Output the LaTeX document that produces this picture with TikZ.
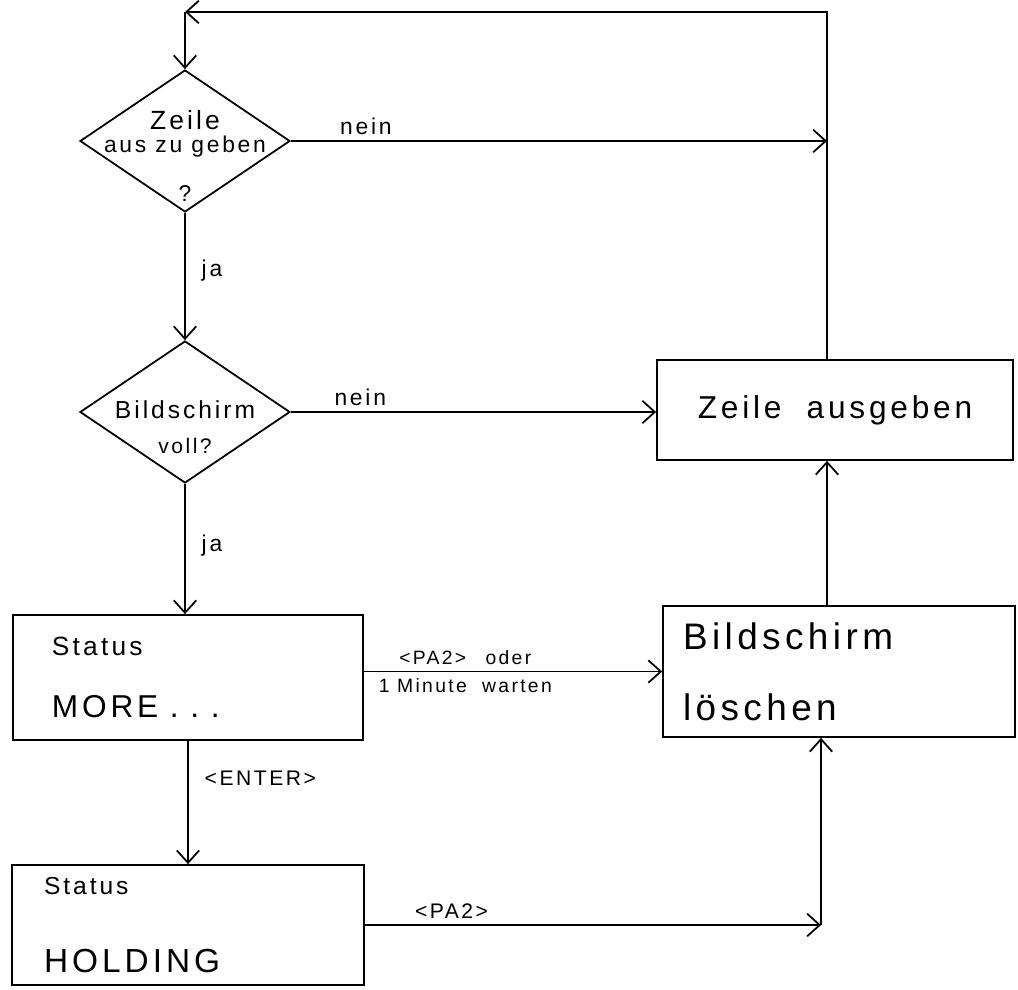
\documentclass[tikz,border=0pt]{standalone}
\usepackage{fontspec}
\newfontfamily\handfont[LetterSpace=12]{Liberation Sans}
\usetikzlibrary{arrows.meta, positioning, shapes.geometric}

\begin{document}
\begin{tikzpicture}[
		decision/.style={diamond, draw, line width=1pt, minimum width=4.2cm,
				minimum height=2.84cm, inner sep=0pt},
		dtext/.style={align=center, font=\handfont},
		block/.style={rectangle, draw, line width=1pt, align=left, font=\handfont},
		tag/.style={font=\handfont\fontsize{13}{15}\selectfont},
		arrow/.style={line width=1pt, -{Straight Barb[length=2.5mm, width=4.5mm]}},
	]
	\useasboundingbox (0,0) rectangle (20.36,-19.78);

	% --- Abfragen ---
	\node (ask)  [decision, label={[dtext, yshift=-3mm]center:{\fontsize{15}{15}\selectfont Zeile}\\[1pt]
				{\fontsize{13}{15}\selectfont aus zu geben}\\[16pt]{\fontsize{13}{15}\selectfont ?}}]
		at (3.70,-2.82) {};
	\node (full) [decision, label={[dtext, yshift=-3mm]center:{\fontsize{14}{16}\selectfont Bildschirm}\\[8pt]
				{\fontsize{12}{14}\selectfont voll?}}]
		at (3.70,-8.24) {};

	% --- Kaesten ---
	\node (out)   [block, minimum width=7.12cm, minimum height=2cm, align=center]
		at (16.70,-8.20) {\fontsize{18}{22}\selectfont Zeile\ \ ausgeben};
	\node (clear) [block, minimum width=7.04cm, minimum height=2.62cm, text width=6.24cm,
		inner xsep=0.4cm] at (16.78,-13.43) {\fontsize{21}{25}\selectfont Bildschirm\\[24pt]löschen};
	\node (more)  [block, minimum width=7cm, minimum height=2.5cm, text width=5.44cm,
		inner xsep=0.78cm] at (3.76,-13.55)
		{\fontsize{15}{18}\selectfont Status\\[22pt]\fontsize{18}{22}\selectfont MORE\ \ .\ \ .\ \ .};
	\node (hold)  [block, minimum width=7.04cm, minimum height=2.4cm, text width=5.76cm,
		inner xsep=0.64cm] at (3.76,-18.5)
		{\fontsize{14}{17}\selectfont Status\\[30pt]\fontsize{19}{23}\selectfont HOLDING};

	\coordinate (loopR) at (16.54,-0.24);
	\coordinate (loopL) at (ask |- loopR);
	\coordinate (join)  at (loopR |- ask.east);
	\coordinate (merge) at (16.42,-18.5);

	% --- Rueckfuehrung nach oben ---
	\draw [arrow] (loopR |- out.north) -- (loopR) -- (loopL);
	\draw [arrow] (loopL) -- (ask.north);

	% --- Abfragen ---
	\draw [arrow] (ask.east) -- node[tag, above, pos=0.14]{nein} (join);
	\draw [arrow] (ask.south) -- node[tag, right, pos=0.45, xshift=2mm]{ja} (full.north);
	\draw [arrow] (full.east) -- node[tag, above, pos=0.19]{nein} (full.east -| out.west);
	\draw [arrow] (full.south) -- node[tag, right, pos=0.47, xshift=2mm]{ja} (full.south |- more.north);

	% --- Status ---
	\draw [arrow] (more.east |- clear.west) -- node[tag, above, pos=0.34, font=\handfont\fontsize{11}{13}\selectfont]{<PA2>\quad oder}
		node[tag, below, pos=0.34, font=\handfont\fontsize{11}{13}\selectfont]{1 Minute\ \ warten} (clear.west);
	\draw [arrow] (more.south) -- node[tag, right, pos=0.3, xshift=2mm, font=\handfont\fontsize{12}{14}\selectfont]{<ENTER>} (hold.north);
	\draw [arrow] (hold.east) -- node[tag, above, pos=0.19, font=\handfont\fontsize{12}{14}\selectfont]{<PA2>} (merge);
	\draw [arrow] (merge) -- (merge |- clear.south);
	\draw [arrow] (clear.north -| loopR) -- (out.south -| loopR);

\end{tikzpicture}
\end{document}
